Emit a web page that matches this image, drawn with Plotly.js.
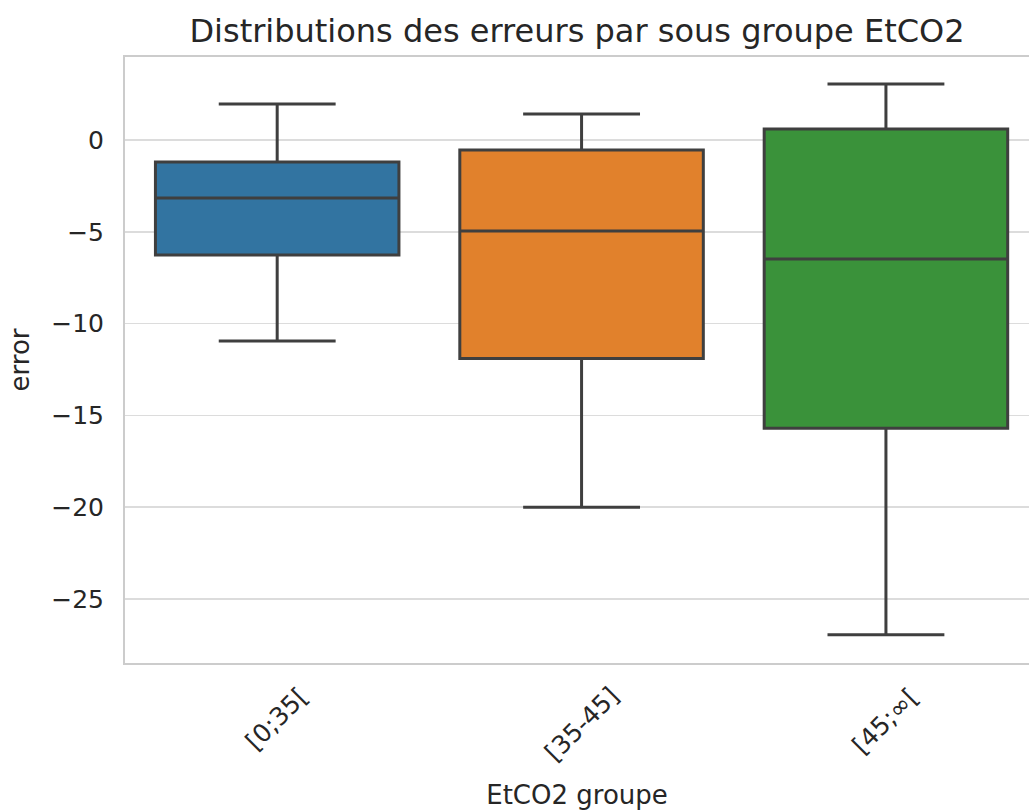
<!DOCTYPE html>
<html>
<head>
<meta charset="utf-8">
<script src="https://cdn.plot.ly/plotly-3.0.1.min.js"></script>
<style>html,body{margin:0;padding:0;background:#fff;overflow:hidden}</style>
</head>
<body>
<div id="chart" style="width:1029px;height:811px"></div>
<script>
const categories = ["[0;35[", "[35-45]", "[45;∞["];
const lowerWhisker = [-10.95, -20.0, -26.95];
const q1 = [-6.27, -11.9, -15.7];
const median = [-3.16, -4.96, -6.49];
const q3 = [-1.2, -0.55, 0.6];
const upperWhisker = [1.96, 1.42, 3.05];
const colors = ["#3274a1", "#e1812c", "#3a923a"];
const yTicks = [0, -5, -10, -15, -20, -25];
const yTickLabels = ["0", "−5", "−10", "−15", "−20", "−25"];

const font = "DejaVu Sans, sans-serif";
const traces = categories.map((c, i) => ({
  type: "box",
  x: [c],
  q1: [q1[i]],
  median: [median[i]],
  q3: [q3[i]],
  lowerfence: [lowerWhisker[i]],
  upperfence: [upperWhisker[i]],
  width: 0.8,
  fillcolor: colors[i],
  line: {color: "#3f3f3f", width: 3},
  whiskerwidth: 0.48,
  boxpoints: false,
  showlegend: false,
  hoverinfo: "skip"
}));

// category tick labels, centred under each box and rotated 45° (matplotlib style)
const tickAnnotations = categories.map(c => ({
  x: c, xref: "x", y: 0, yref: "paper",
  text: c, showarrow: false, textangle: -45,
  xanchor: "center", yanchor: "top", yshift: -16,
  font: {family: font, size: 25, color: "#262626"}
}));

const layout = {
  width: 1029, height: 811,
  margin: {l: 125, r: 0, t: 57, b: 148},
  paper_bgcolor: "#fff", plot_bgcolor: "#fff",
  boxmode: "overlay",
  title: {text: "Distributions des erreurs par sous groupe EtCO2", font: {family: font, size: 32, color: "#262626"}, x: 0.5, xref: "paper", y: 0.962, yanchor: "middle"},
  annotations: tickAnnotations,
  xaxis: {
    type: "category", categoryorder: "array", categoryarray: categories,
    range: [-0.5, 2.47],
    showticklabels: false, ticks: "", showgrid: false,
    showline: true, linecolor: "#cccccc", linewidth: 2, mirror: true,
    title: {text: "EtCO2 groupe", font: {family: font, size: 26, color: "#262626"}, standoff: 122},
    automargin: false,
    zeroline: false
  },
  yaxis: {
    range: [-28.49, 4.52],
    tickvals: yTicks, ticktext: yTickLabels, ticks: "",
    ticklabelstandoff: 14,
    showgrid: true, gridcolor: "#dcdcdc", gridwidth: 1.5,
    showline: true, linecolor: "#cccccc", linewidth: 2,
    zeroline: false,
    automargin: false,
    tickfont: {family: font, size: 25, color: "#262626"},
    title: {text: "error", font: {family: font, size: 26, color: "#262626"}, standoff: 14}
  }
};
Plotly.newPlot("chart", traces, layout, {displayModeBar: false, staticPlot: true});
</script>
</body>
</html>
